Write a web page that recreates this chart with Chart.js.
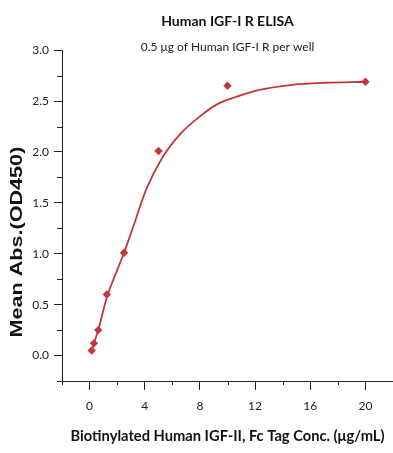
<!DOCTYPE html>
<html>
<head>
<meta charset="utf-8">
<script src="https://cdn.jsdelivr.net/npm/chart.js@4.4.1/dist/chart.umd.min.js"></script>
<style>
  html, body { margin: 0; padding: 0; background: #fff; }
  #wrap { width: 393px; height: 453px; }
</style>
</head>
<body>
<div id="wrap"><canvas id="elisa"></canvas></div>
<script>
// measured points (conc. in ug/mL, OD450)
const conc = [0.156, 0.313, 0.625, 1.25, 2.5, 5, 10, 20]
const absorb = [0.05, 0.12, 0.25, 0.60, 1.01, 2.01, 2.65, 2.69]

// fitted curve
const fitX = [0.156, 0.625, 1.25, 2.0, 2.5, 3.25, 4.1, 5.3, 6.6, 8.0, 9.4, 10.6, 12.3, 14.7, 17.1, 20]
const fitY = [0.05, 0.25, 0.57, 0.84, 1.01, 1.30, 1.63, 1.95, 2.18, 2.35, 2.48, 2.54, 2.61, 2.66, 2.68, 2.69]

// tick labels
const xTicks = [0, 4, 8, 12, 16, 20]
const xMinor = [-2, 2, 6, 10, 14, 18, 22]
const yTicks = [0, 0.5, 1, 1.5, 2, 2.5, 3]
const yMinor = [-0.25, 0.25, 0.75, 1.25, 1.75, 2.25, 2.75]

const yTitle = 'Mean Abs.(OD450)'

const red = '#c3363a'
const ink = '#222'

// short minor ticks + the (stretched) y title
const extras = {
  id: 'extras',
  afterDraw(chart) {
    const { ctx, chartArea, scales: { x, y } } = chart
    ctx.save()
    ctx.strokeStyle = ink
    ctx.lineWidth = 1
    ctx.beginPath()
    xMinor.forEach(v => {
      const px = Math.round(x.getPixelForValue(v)) + 0.5
      ctx.moveTo(px, x.top)
      ctx.lineTo(px, x.top + 4)
    })
    yMinor.forEach(v => {
      const py = Math.round(y.getPixelForValue(v)) + 0.5
      ctx.moveTo(y.right, py)
      ctx.lineTo(y.right - 5, py)
    })
    ctx.stroke()

    // title sits a bit below the middle of the axis in the original
    const cy = chartArea.top + 0.58 * (chartArea.bottom - chartArea.top)
    ctx.translate(17, cy)
    ctx.rotate(-Math.PI / 2)
    ctx.scale(1.27, 1)
    ctx.fillStyle = '#111'
    ctx.font = 'bold 17px "Liberation Sans", Arial, sans-serif'
    ctx.textAlign = 'center'
    ctx.textBaseline = 'middle'
    ctx.fillText(yTitle, 0, 0)
    ctx.restore()
  }
}

const points = conc.map((c, i) => ({ x: c, y: absorb[i] }))
const curve = fitX.map((c, i) => ({ x: c, y: fitY[i] }))

new Chart(document.getElementById('elisa'), {
  type: 'scatter',
  data: {
    datasets: [
      {
        label: 'fit',
        data: curve,
        showLine: true,
        cubicInterpolationMode: 'monotone',
        borderColor: red,
        borderWidth: 1.8,
        pointRadius: 0,
        order: 2
      },
      {
        label: 'data',
        data: points,
        pointStyle: 'rectRot',
        pointRadius: 4.2,
        backgroundColor: red,
        borderColor: red,
        borderWidth: 0,
        order: 1
      }
    ]
  },
  options: {
    responsive: true,
    maintainAspectRatio: false,
    animation: false,
    layout: { autoPadding: false, padding: { left: 0, right: -4, top: 0, bottom: 0 } },
    plugins: {
      legend: { display: false },
      tooltip: { enabled: false },
      title: {
        display: true,
        text: 'Human IGF-I R ELISA',
        fullSize: false,
        color: '#111',
        font: { family: 'Lato', size: 14, weight: 'bold' },
        padding: { top: 13, bottom: 0 }
      },
      subtitle: {
        display: true,
        text: '0.5 μg of Human IGF-I R per well',
        fullSize: false,
        color: '#222',
        font: { family: 'Lato', size: 12 },
        padding: { top: 10, bottom: -4 }
      }
    },
    scales: {
      x: {
        type: 'linear',
        min: -2,
        max: 22,
        afterFit: s => { s.height = 72 },
        afterBuildTicks: s => { s.ticks = xTicks.map(v => ({ value: v })) },
        grid: { drawOnChartArea: false, tickLength: 9, tickColor: ink },
        border: { color: ink, width: 1 },
        ticks: {
          color: ink,
          padding: 9,
          font: { family: 'Lato', size: 12 },
          callback: v => String(v)
        },
        title: {
          display: true,
          text: 'Biotinylated Human IGF-II, Fc Tag Conc. (μg/mL)',
          color: '#111',
          font: { family: 'Lato', size: 14.7, weight: 'bold' },
          padding: { top: 0, bottom: 8 }
        }
      },
      y: {
        type: 'linear',
        min: -0.25,
        max: 3,
        afterFit: s => { s.width = 62 },
        afterBuildTicks: s => { s.ticks = yTicks.map(v => ({ value: v })) },
        grid: { drawOnChartArea: false, tickLength: 8, tickColor: ink },
        border: { color: ink, width: 1 },
        ticks: {
          color: ink,
          padding: 5,
          font: { family: 'Lato', size: 12 },
          callback: v => v.toFixed(1)
        }
      }
    }
  },
  plugins: [extras]
})
</script>
</body>
</html>
